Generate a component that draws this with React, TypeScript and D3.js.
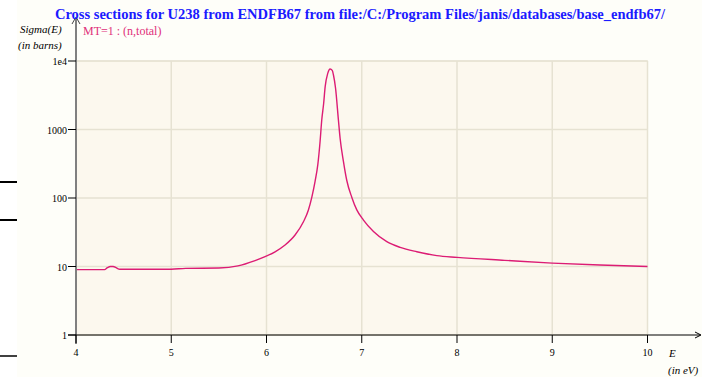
import React from "react";
import * as d3 from "d3";

const title = "Cross sections for U238 from ENDFB67 from file:/C:/Program Files/janis/databases/base_endfb67/";
const seriesLabel = "MT=1 : (n,total)";
const xTicks = [4, 5, 6, 7, 8, 9, 10];
const yTicks = [1, 10, 100, 1000, 10000];
const yTickLabels = ["1", "10", "100", "1000", "1e4"];

const energy = [4.0, 4.2, 4.3, 4.33, 4.36, 4.39, 4.42, 4.46, 4.6, 5.0, 5.15, 5.5, 5.7, 5.88, 5.985, 6.09, 6.195, 6.3, 6.388, 6.44, 6.476, 6.51, 6.539, 6.563, 6.58, 6.6, 6.616, 6.643, 6.668, 6.69, 6.703, 6.725, 6.755, 6.773, 6.808, 6.843, 6.896, 6.948, 7.018, 7.123, 7.263, 7.403, 7.578, 7.788, 8.0, 8.5, 9.0, 9.5, 10.0];
const sigma = [9.0, 9.0, 9.0, 9.6, 10.0, 10.0, 9.6, 9.1, 9.1, 9.1, 9.4, 9.5, 10.2, 12.2, 13.9, 16.4, 20.6, 28.8, 45, 66.8, 103, 175, 310, 680, 1376, 2400, 4220, 6600, 7640, 7300, 6250, 4000, 1376, 740, 340, 180, 102, 67, 47.6, 32.4, 23, 19.0, 16.4, 14.4, 13.6, 12.3, 11.2, 10.5, 10.0];

export default function App() {
  const W = 702, H = 377;
  const x = d3.scaleLinear().domain([4, 10]).range([76, 647.5]);
  const y = d3.scaleLog().domain([1, 10000]).range([335, 61]);
  const pts: [number, number][] = energy.map((e, i) => [e, sigma[i]]);
  const line = d3.line<[number, number]>().x(d => x(d[0])).y(d => y(d[1])).curve(d3.curveMonotoneX);
  const serif = "'Liberation Serif', 'DejaVu Serif', serif";
  return (
    <svg width={W} height={H} style={{ position: "absolute", left: 0, top: 0 }} fontFamily={serif}>
      <rect x={0} y={0} width={W} height={H} fill="#ffffff" />
      <rect x={17} y={0} width={W - 17} height={H} fill="#fefef9" />
      <line x1={0} x2={17} y1={182} y2={182} stroke="#000" strokeWidth={2} />
      <line x1={0} x2={17} y1={220} y2={220} stroke="#000" strokeWidth={2} />
      <line x1={0} x2={17} y1={356} y2={356} stroke="#000" strokeWidth={1.5} />
      <rect x={76} y={61} width={647.5 - 76} height={335 - 61} fill="#fcf8ee" stroke="#e6e2d2" />
      {xTicks.map(t => (
        <line key={"gx" + t} x1={x(t)} x2={x(t)} y1={61} y2={335} stroke="#e6e2d2" strokeWidth={1.5} />
      ))}
      {yTicks.map(t => (
        <line key={"gy" + t} x1={76} x2={647.5} y1={y(t)} y2={y(t)} stroke="#e6e2d2" strokeWidth={1.5} />
      ))}
      <path d={line(pts) || ""} fill="none" stroke="#dc1c74" strokeWidth={1.4} />
      {/* y axis */}
      <line x1={76} x2={76} y1={18} y2={344} stroke="#808080" strokeWidth={2} />
      <path d="M72,24 L76,17 L80,24" fill="none" stroke="#444" strokeWidth={1} />
      {yTicks.map((t, i) => (
        <g key={"yt" + t}>
          <line x1={68} x2={76} y1={y(t)} y2={y(t)} stroke="#000" strokeWidth={1} />
          <text x={67} y={y(t) + 4} fontSize={10} textAnchor="end" fill="#000">{yTickLabels[i]}</text>
        </g>
      ))}
      {/* x axis */}
      <line x1={68} x2={700} y1={335} y2={335} stroke="#000" strokeWidth={1} />
      <path d="M695,332 L701,335 L695,338" fill="none" stroke="#000" strokeWidth={1} />
      {xTicks.map(t => (
        <g key={"xt" + t}>
          <line x1={x(t)} x2={x(t)} y1={335} y2={343} stroke="#000" strokeWidth={1} />
          <text x={x(t)} y={356} fontSize={10} textAnchor="middle" fill="#000">{t}</text>
        </g>
      ))}
      <text x={360} y={19} fontSize={14.5} fontWeight="bold" fill="#1a1aff" textAnchor="middle">{title}</text>
      <text x={83} y={35} fontSize={12} fill="#e0307a">{seriesLabel}</text>
      <text x={20} y={33} fontSize={11} fontStyle="italic" fill="#000">Sigma(E)</text>
      <text x={18} y={49} fontSize={11} fontStyle="italic" fill="#000">(in barns)</text>
      <text x={669} y={357} fontSize={11} fontStyle="italic" fill="#000">E</text>
      <text x={668} y={374} fontSize={11} fontStyle="italic" fill="#000">(in eV)</text>
    </svg>
  );
}
